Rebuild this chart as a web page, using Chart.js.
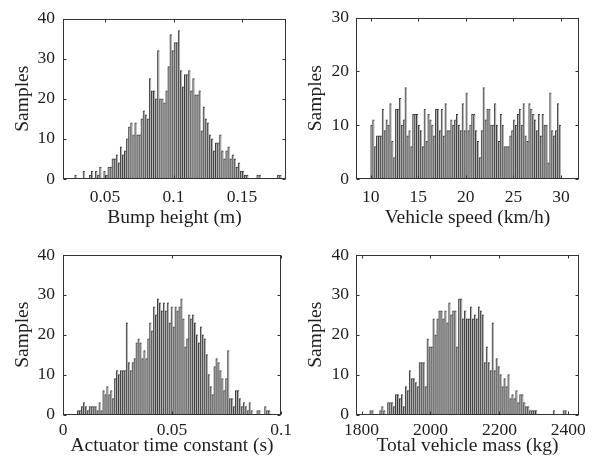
<!DOCTYPE html>
<html>
<head>
<meta charset="utf-8">
<script src="https://cdn.jsdelivr.net/npm/chart.js@4.4.1/dist/chart.umd.min.js"></script>
<style>
  html, body { margin: 0; padding: 0; background: #fff; }
  #wrap { position: relative; width: 594px; height: 467px; overflow: hidden; }
  canvas { position: absolute; }
</style>
</head>
<body>
<div id="wrap">
  <canvas id="c1" width="297" height="233" style="left:0;top:0"></canvas>
  <canvas id="c2" width="297" height="233" style="left:297px;top:0"></canvas>
  <canvas id="c3" width="297" height="234" style="left:0;top:233px"></canvas>
  <canvas id="c4" width="297" height="234" style="left:297px;top:233px"></canvas>
</div>
<script>
// counts per bin (left to right)
const bumpCounts = [
  1,0,0,0,2,0,0,1,2,0, 2,1,3,0,2,1,3,3,5,5, 6,4,8,6,7,10,13,14,11,14,
  11,11,15,17,16,15,25,22,22,20, 32,20,20,19,22,28,36,32,34,34,
  37,27,23,26,26,27,22,25,21,21, 22,12,18,15,14,11,10,7,9,9,
  11,7,5,7,8,5,6,5,3,4, 2,2,1,1,0,0,0,0,1,1, 0,0,0,0,0,0,0,0,1,1
];
const speedCounts = [
  10,11,6,8,8,8,13,9,11,10, 14,7,4,13,13,15,10,11,17,8, 9,6,12,12,12,10,9,6,13,7,
  12,11,10,8,13,13,9,13,8,14, 9,9,11,10,11,12,10,9,14,9, 16,9,
  10,12,12,9,7,4,9,17,11,13, 13,10,10,14,10,7,12,10,6,6, 6,8,9,11,10,12,13,10,14,8,
  7,14,13,12,11,9,12,8,12,10, 10,3,16,9,8,9,14,10
];
const actuatorCounts = [
  1,1,2,3,2,1,2,2,2,2, 1,3,1,6,5,7,5,6,4,9, 11,10,11,11,11,23,13,11,13,14,
  18,19,18,14,16,14,19,23,21,27, 25,29,28,26,28,26,
  28,23,27,22,27,26,27,29,24,17, 19,25,24,25,23,20,18,22,20,19, 15,10,7,5,12,14,13,11,9,6,
  9,16,4,4,2,6,6,4,2,3, 2,1,3,1,0,0,1,1,0,0, 2,1,1
];
const massCounts = [
  1,1,0,0,0,1,2,1,0,3, 3,3,2,5,5,4,5,2,7,6, 11,9,9,8,7,13,13,13,7,19,
  17,17,24,20,24,26,26,24,26,23, 28,25,26,26,17,29,
  29,24,26,24,24,27,24,25,24,27, 26,25,13,17,13,11,23,11,14,12, 10,7,9,7,10,4,5,4,6,3,
  5,5,3,2,2,1,1,1,1,0, 0,0,0,0,0,0,0,1,0,0, 0,0,1,1
];

// bin centres: first centre and bin width
const bumpBin = [0.0286, 0.00151];
const speedBin = [10.1, 0.2];
const actuatorBin = [0.00704, 0.000894];
const massBin = [1826.7, 5.72];

// x axis limits and ticks
const bumpRange = [0.0193, 0.1821];
const speedRange = [8.46, 31.89];
const actuatorRange = [0, 0.1];
const massRange = [1784, 2431];
const bumpTicks = [0.05, 0.1, 0.15];
const speedTicks = [10, 15, 20, 25, 30];
const actuatorTicks = [0, 0.05, 0.1];
const massTicks = [1800, 2000, 2200, 2400];
const yTicks40 = [0, 10, 20, 30, 40];
const yTicks30 = [0, 10, 20, 30];

const FONT = "'Liberation Serif', 'Times New Roman', serif";
const INK = '#1e1e1e';

const framePlugin = {
  id: 'frame',
  afterDatasetsDraw(chart) {
    const { ctx, chartArea: a, scales: { x, y } } = chart;
    const L = Math.round(a.left) + 0.5, R = Math.round(a.right) - 0.5;
    const T = Math.round(a.top) + 0.5, B = Math.round(a.bottom) - 0.5;
    const len = 3;
    ctx.save();
    ctx.strokeStyle = '#333';
    ctx.lineWidth = 1;
    ctx.beginPath();
    x.ticks.forEach(t => {
      const px = Math.round(x.getPixelForValue(t.value)) + 0.5;
      ctx.moveTo(px, B); ctx.lineTo(px, B - len);
      ctx.moveTo(px, T); ctx.lineTo(px, T + len);
    });
    y.ticks.forEach(t => {
      const py = Math.round(y.getPixelForValue(t.value)) + 0.5;
      ctx.moveTo(L, py); ctx.lineTo(L + len, py);
      ctx.moveTo(R, py); ctx.lineTo(R - len, py);
    });
    ctx.stroke();
    ctx.strokeRect(L, T, R - L, B - T);
    ctx.restore();
  }
};

function makeHist(id, o) {
  const points = o.counts.map((c, i) => ({ x: o.bin[0] + i * o.bin[1], y: c }));
  new Chart(document.getElementById(id), {
    type: 'bar',
    data: {
      datasets: [{
        data: points,
        backgroundColor: '#b3b3b3',
        borderColor: '#3a3a3a',
        borderWidth: { left: 1, top: 1, right: 0, bottom: 0 },
        barPercentage: 1,
        categoryPercentage: 1
      }]
    },
    options: {
      responsive: false,
      animation: false,
      devicePixelRatio: 1,
      layout: { padding: { left: 0, right: o.padRight, top: o.padTop, bottom: 0 } },
      plugins: { legend: { display: false }, tooltip: { enabled: false } },
      scales: {
        x: {
          type: 'linear',
          offset: false,
          min: o.range[0], max: o.range[1],
          grid: { display: false, drawTicks: false }, border: { display: false },
          afterBuildTicks: s => { s.ticks = o.xTicks.map(v => ({ value: v })); },
          afterFit: s => { s.height = o.xHeight; },
          ticks: {
            color: INK, padding: o.xTickPad, maxRotation: 0, autoSkip: false,
            font: { family: FONT, size: 17.5 },
            callback: v => String(v)
          },
          title: {
            display: true, text: o.xTitle, color: INK,
            font: { family: FONT, size: 19.5 },
            padding: { top: 0, bottom: o.xTitlePad }
          }
        },
        y: {
          min: 0, max: o.yTicks[o.yTicks.length - 1],
          grid: { display: false, drawTicks: false }, border: { display: false },
          afterBuildTicks: s => { s.ticks = o.yTicks.map(v => ({ value: v })); },
          afterFit: s => { s.width = o.yWidth; },
          ticks: {
            color: INK, padding: o.yTickPad,
            font: { family: FONT, size: 17.5 }
          },
          title: {
            display: true, text: 'Samples', color: INK,
            font: { family: FONT, size: 19.5 },
            padding: { top: o.yTitlePad, bottom: 0 }
          }
        }
      }
    },
    plugins: [framePlugin]
  });
}

makeHist('c1', {
  counts: bumpCounts, bin: bumpBin, range: bumpRange, xTicks: bumpTicks, yTicks: yTicks40,
  xTitle: 'Bump height (m)', padRight: 11, padTop: 17, xHeight: 54, yWidth: 63,
  xTickPad: 7.5, xTitlePad: 3.3, yTickPad: 8, yTitlePad: 11.3
});
makeHist('c2', {
  counts: speedCounts, bin: speedBin, range: speedRange, xTicks: speedTicks, yTicks: yTicks30,
  xTitle: 'Vehicle speed (km/h)', padRight: 15, padTop: 17, xHeight: 54, yWidth: 59,
  xTickPad: 7.5, xTitlePad: 3.3, yTickPad: 7, yTitlePad: 6.8
});
makeHist('c3', {
  counts: actuatorCounts, bin: actuatorBin, range: actuatorRange, xTicks: actuatorTicks, yTicks: yTicks40,
  xTitle: 'Actuator time constant (s)', padRight: 11, padTop: 22, xHeight: 52.5, yWidth: 63,
  xTickPad: 5, xTitlePad: 9.3, yTickPad: 8, yTitlePad: 11.3
});
makeHist('c4', {
  counts: massCounts, bin: massBin, range: massRange, xTicks: massTicks, yTicks: yTicks40,
  xTitle: 'Total vehicle mass (kg)', padRight: 15, padTop: 22, xHeight: 52.5, yWidth: 59,
  xTickPad: 5, xTitlePad: 9.3, yTickPad: 7, yTitlePad: 6.8
});
</script>
</body>
</html>
